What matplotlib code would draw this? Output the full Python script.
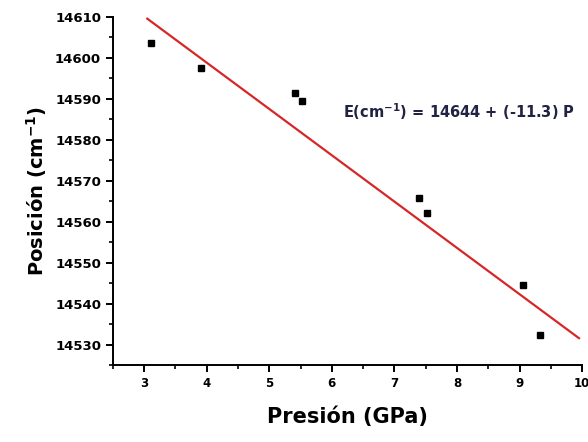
import matplotlib.pyplot as plt
import numpy as np
from matplotlib.ticker import MultipleLocator

# Measured positions (pressure in GPa, position in cm^-1)
presion = [3.11, 3.91, 5.41, 5.53, 7.39, 7.52, 9.06, 9.32]
posicion = [14603.7, 14597.4, 14591.4, 14589.5, 14565.7, 14562.0, 14544.6, 14532.4]

# Linear fit shown in the chart
intercept = 14644
slope = -11.3
fit_range = [3.05, 9.95]

fig = plt.figure(figsize=(5.88, 4.42), dpi=100)
ax = fig.add_axes([0.192, 0.174, 0.798, 0.788])

ax.plot(presion, posicion, 's', color='black', markersize=5)

x_fit = np.linspace(fit_range[0], fit_range[1], 50)
ax.plot(x_fit, intercept + slope * x_fit, color='#d62728', linewidth=1.6)

ax.text(0.49, 0.71, r'E(cm$^{\mathbf{-1}}$) = 14644 + (-11.3) P', transform=ax.transAxes,
        fontsize=10.5, fontweight='bold', color='#222244', clip_on=False)

ax.set_xlim(2.5, 10)
ax.set_ylim(14525, 14610)
ax.xaxis.set_major_locator(MultipleLocator(1))
ax.xaxis.set_minor_locator(MultipleLocator(0.5))
ax.yaxis.set_major_locator(MultipleLocator(10))
ax.yaxis.set_minor_locator(MultipleLocator(5))

ax.spines['top'].set_visible(False)
ax.spines['right'].set_visible(False)
ax.spines['left'].set_linewidth(1.4)
ax.spines['bottom'].set_linewidth(1.4)
ax.tick_params(which='major', direction='out', length=5, width=1.4, labelsize=9.5)
ax.tick_params(axis='x', labelsize=8.5)
ax.tick_params(which='minor', direction='out', length=3, width=1.2)
for lab in ax.get_xticklabels() + ax.get_yticklabels():
    lab.set_fontweight('bold')

ax.set_xlabel('Presión (GPa)', fontsize=15, fontweight='bold', labelpad=12)
ax.set_ylabel(r'Posición (cm$^{\mathbf{-1}}$)', fontsize=14, fontweight='bold', labelpad=4)

plt.savefig('out.png', dpi=100)
